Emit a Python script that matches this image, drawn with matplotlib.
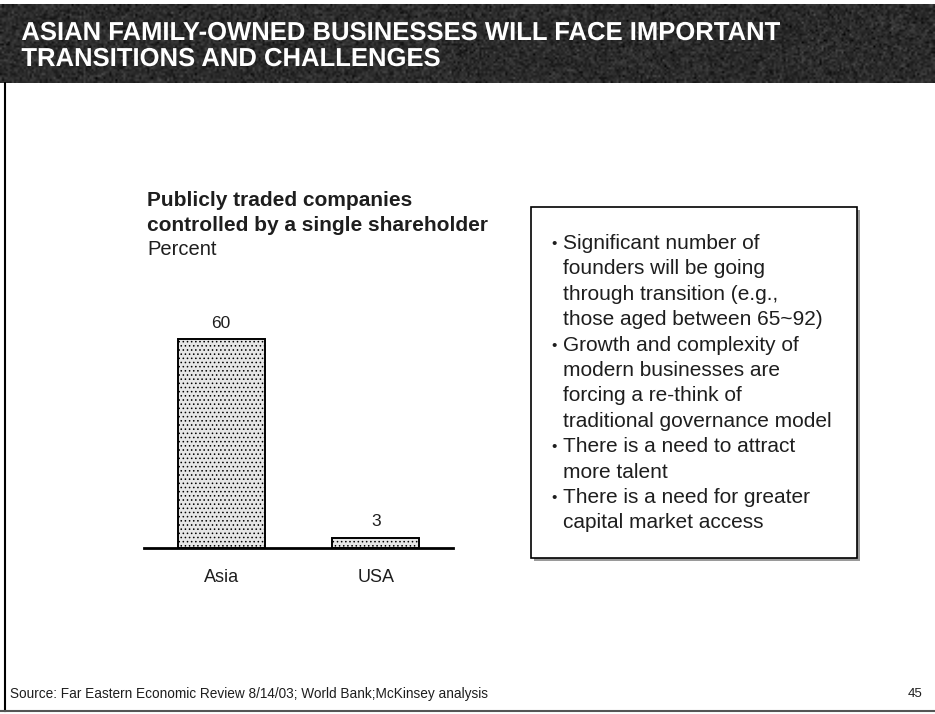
import numpy as np
import matplotlib.pyplot as plt
from matplotlib.patches import Rectangle, PathPatch
from matplotlib.textpath import TextPath
from matplotlib.font_manager import FontProperties
from matplotlib.transforms import Affine2D

# Share of publicly traded companies controlled by a single shareholder
regions = ["Asia", "USA"]
share_pct = [60, 3]

title_lines = ["ASIAN FAMILY-OWNED BUSINESSES WILL FACE IMPORTANT",
               "TRANSITIONS AND CHALLENGES"]
chart_title = ["Publicly traded companies",
               "controlled by a single shareholder"]
chart_unit = "Percent"
bullets = [
    ["Significant number of", "founders will be going",
     "through transition (e.g.,", "those aged between 65~92)"],
    ["Growth and complexity of", "modern businesses are",
     "forcing a re-think of", "traditional governance model"],
    ["There is a need to attract", "more talent"],
    ["There is a need for greater", "capital market access"],
]
source = "Source: Far Eastern Economic Review 8/14/03; World Bank;McKinsey analysis"
page_no = "45"

W, H = 935, 714
plt.rcParams['font.family'] = ['Liberation Sans', 'DejaVu Sans']
plt.rcParams['hatch.color'] = '#a8a8a8'
plt.rcParams['hatch.linewidth'] = 0.6
INK = "#1e1e1e"

fig = plt.figure(figsize=(W / 100, H / 100), dpi=100)
fig.patch.set_facecolor("white")

# full-page overlay in pixel coordinates (y down)
page = fig.add_axes([0, 0, 1, 1])
page.set_xlim(0, W)
page.set_ylim(H, 0)
page.axis("off")

title_font = FontProperties(family="Liberation Sans", weight="bold")


def title_path(s, size_px):
    return TextPath((0, 0), s, size=size_px, prop=title_font)


def draw_path(ax, tp, x, baseline, sx, color):
    # glyph outlines, narrowed horizontally by sx
    tr = Affine2D().scale(sx, -1).translate(x, baseline)
    ax.add_patch(PathPatch(tp, transform=tr + ax.transData, facecolor=color,
                           edgecolor="none", zorder=3))


# dark header band with a little grain
rng = np.random.default_rng(3)
grain = 0.17 + 0.05 * rng.standard_normal((40, 470))
page.imshow(grain, cmap="gray", vmin=0, vmax=1, extent=[0, W, 83, 4],
            aspect="auto", interpolation="bilinear", zorder=1)
t1 = title_path(title_lines[0], 26)
t2 = title_path(title_lines[1], 26)
ext = t1.get_extents()
sx = 758 / ext.width
draw_path(page, t1, 22 - ext.x0 * sx, 40, sx, "white")
draw_path(page, t2, 22 - ext.x0 * sx, 66, sx, "white")

# page frame: left edge and bottom rule
page.plot([5, 5], [83, 711], color="black", lw=1.5)
page.plot([0, W], [711, 711], color="#555555", lw=1.5)

# chart heading
page.text(147, 206, chart_title[0], fontsize=15, fontweight="bold", va="baseline", color=INK)
page.text(147, 231, chart_title[1], fontsize=15, fontweight="bold", va="baseline", color=INK)
page.text(147, 255, chart_unit, fontsize=14.5, va="baseline", color=INK)

# bullet box with shadow
page.add_patch(Rectangle((534, 210), 326, 351, facecolor="#9a9a9a", edgecolor="none", zorder=1))
page.add_patch(Rectangle((531, 207), 326, 351, facecolor="white", edgecolor="black", lw=1.2, zorder=2))
y = 249
for item in bullets:
    page.text(551, y - 1, "\u2022", fontsize=11, va="baseline", color=INK, zorder=3)
    for line in item:
        page.text(563, y, line, fontsize=15, va="baseline", color=INK, zorder=3)
        y += 25.4

page.text(10, 694, source, fontsize=9.8, va="center", color=INK)
page.text(922, 694, page_no, fontsize=9.5, va="center", ha="right", color=INK)

# bar chart
ax = fig.add_axes([144 / W, 1 - 548 / H, 309 / W, 248 / H])
ax.patch.set_alpha(0)
x = np.arange(len(regions))
ax.bar(x, share_pct, width=0.563, color="#e6e6e6", edgecolor="black",
       linewidth=1.4, hatch="....", zorder=2)
ax.set_xlim(-0.5, 1.5)
ax.set_ylim(0, 248 / 3.48)
ax.axhline(0, color="black", lw=2, zorder=3, clip_on=False)
for xi, v in zip(x, share_pct):
    ax.text(xi, v + 2.5, str(v), ha="center", va="bottom", fontsize=12.5, color=INK)
ax.set_xticks(x)
ax.set_xticklabels(regions, fontsize=13, color=INK)
ax.tick_params(axis="x", length=0, pad=15)
ax.set_yticks([])
for s in ax.spines.values():
    s.set_visible(False)

fig.savefig("out.png", dpi=100)
